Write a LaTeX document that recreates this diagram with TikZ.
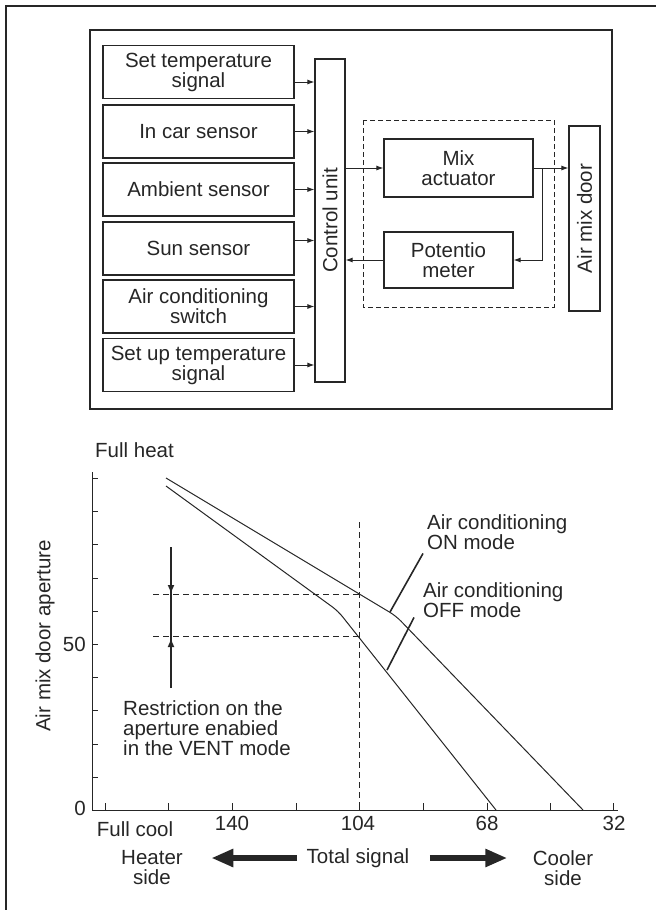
\documentclass[tikz,border=0pt]{standalone}
\usepackage{fontspec}
\setmainfont{Liberation Sans}
\usetikzlibrary{arrows.meta,calc}

\tikzset{
  inbox/.style={draw,line width=1.1pt,minimum width=191pt,minimum height=53pt,align=center,inner sep=1pt},
  unitbox/.style={draw,line width=1.1pt,align=center,inner sep=1pt},
  sig/.style={line width=1pt,-{Latex[length=7pt,width=5pt]}},
  fat/.style={line width=5.5pt,-{Triangle[length=22pt,width=17pt]}},
  restr/.style={line width=2.5pt,-{Latex[length=9pt,width=7pt]}},
  guide/.style={line width=0.9pt,dash pattern=on 6pt off 4pt},
  curve/.style={line width=1pt,rounded corners=7pt},
  leader/.style={line width=1.6pt},
}

\begin{document}
\begin{tikzpicture}[x=1pt,y=-1pt,font=\fontsize{20.5}{20}\selectfont,color=black!85]
  \useasboundingbox (0,0) rectangle (656,910);
  \draw[line width=1.4pt] (6,910) -- (6,6) -- (656,6);

  % block diagram
  \draw[line width=1.1pt] (90,30) rectangle (612,409);
  \node[inbox] (st)  at (198.5,72)    {Set temperature\\signal};
  \node[inbox] (ic)  at (198.5,131.5) {In car sensor};
  \node[inbox] (amb) at (198.5,189.5) {Ambient sensor};
  \node[inbox] (sun) at (198.5,248.5) {Sun sensor};
  \node[inbox] (acs) at (198.5,306.5) {Air conditioning\\switch};
  \node[inbox] (sut) at (198.5,365)   {Set up temperature\\signal};
  \node[unitbox,rotate=90,minimum width=323pt,minimum height=30pt] (cu) at (330,220.5) {Control unit};
  \node[unitbox,rotate=90,minimum width=185pt,minimum height=31pt] (amd) at (584.5,218.5) {Air mix door};
  \node[unitbox,minimum width=149pt,minimum height=58pt] (mix) at (458.5,168) {Mix\\actuator};
  \node[unitbox,minimum width=129pt,minimum height=56pt] (pot) at (448.5,260) {Potentio\\meter};
  \draw[line width=1pt,dash pattern=on 5pt off 3pt] (363,120) rectangle (554,307);

  \draw[sig] ([yshift=-10pt]st.east) -- ([yshift=-10pt]st.east -| cu.north);
  \draw[sig] (ic.east) -- (ic.east -| cu.north);
  \draw[sig] (amb.east) -- (amb.east -| cu.north);
  \draw[sig] ([yshift=8pt]sun.east) -- ([yshift=8pt]sun.east -| cu.north);
  \draw[sig] (acs.east) -- (acs.east -| cu.north);
  \draw[sig] (sut.east) -- (sut.east -| cu.north);
  \draw[sig] (mix.west -| cu.south) -- (mix.west);
  \draw[sig] (mix.east) -- (mix.east -| amd.north);
  \coordinate (split) at ($(mix.east)+(9,0)$);
  \draw[sig] (split) |- (pot.east);
  \draw[sig] (pot.west) -- (pot.west -| cu.south);

  % graph
  \draw[line width=1pt] (92,472) -- (92,810) -- (618,810);
  \draw[line width=1pt] (92,478)--(98,478) (92,511)--(98,511) (92,544)--(98,544)
    (92,578)--(98,578) (92,611)--(98,611) (92,644)--(98,644) (92,677)--(98,677)
    (92,710)--(98,710) (92,744)--(98,744) (92,777)--(98,777);
  \draw[line width=1pt] (105,810)--(105,803) (168,810)--(168,803) (232,810)--(232,803)
    (296,810)--(296,803) (359,810)--(359,803) (423,810)--(423,803) (487,810)--(487,803)
    (550,810)--(550,803) (613,810)--(613,803);

  \node[anchor=east,inner sep=0] (y0) at (86,808) {0};
  \node[anchor=east,inner sep=0] (y50) at (86,644) {50};
  \node[rotate=90] (ylab) at (45,636) {Air mix door aperture};
  \node[anchor=west,inner sep=0] (fh) at (95,450) {Full heat};

  \node (fc) at (135,829) {Full cool};
  \node (x140) at (232,823) {140};
  \node (x104) at (358,823) {104};
  \node (x68) at (487,823) {68};
  \node (x32) at (614,823) {32};
  \node[align=center] (hs) at (152,868) {Heater\\side};
  \node (ts) at (358,858) {Total signal};
  \node[align=center] (cs) at (563,868) {Cooler\\side};
  \draw[fat] ($(ts.west)+(-6,0)$) -- ($(ts.west -| hs.east)+(25,0)$);
  \draw[fat] ($(ts.east)+(17,0)$) -- ($(ts.east -| cs.west)+(-22,0)$);

  \draw[guide] (153,594) -- (359,594);
  \draw[guide] (153,636) -- (359,636);
  \draw[guide] (359,522) -- (359,810);

  \draw[curve] (166,478) -- (396,616) -- (583,810);
  \draw[curve] (166,486) -- (338,611) -- (496,810);

  \draw[line width=2.5pt] (171,547) -- (171,688);
  \draw[restr] (171,547) -- (171,594);
  \draw[restr] (171,688) -- (171,638);
  \node[anchor=north west,inner sep=0,align=left] (rn) at (123,700)
    {Restriction on the\\aperture enabied\\in the VENT mode};

  \node[anchor=north west,inner sep=0,align=left] (onl) at (427,514) {Air conditioning\\ON mode};
  \node[anchor=north west,inner sep=0,align=left] (offl) at (423,582) {Air conditioning\\OFF mode};
  \coordinate (onpt) at (390,612);
  \coordinate (offpt) at (387,670);
  \draw[leader] ($(onl.south west)+(-4,4)$) -- (onpt);
  \draw[leader] ($(offl.south west)+(-9,0)$) -- (offpt);
\end{tikzpicture}
\end{document}
